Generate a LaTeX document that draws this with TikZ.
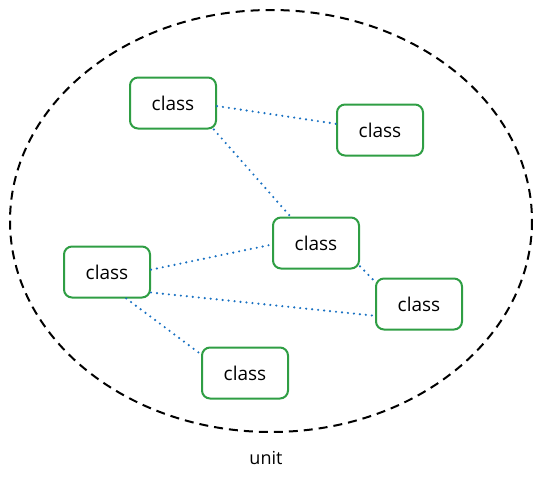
\documentclass[tikz,border=0pt]{standalone}
\usepackage{fontspec}
\setmainfont{Open Sans}
\usetikzlibrary{positioning}

\definecolor{boxgreen}{HTML}{2F9E44}
\definecolor{linkblue}{HTML}{1971C2}

\begin{document}
\begin{tikzpicture} [
	x=1pt, y=-1pt,
	cls/.style = {draw=boxgreen, line width=2pt, rounded corners=8pt, fill=white,
		minimum width=86pt, minimum height=51pt, font=\fontsize{19}{22}\selectfont},
	link/.style = {draw=linkblue, line width=2.4pt, line cap=round, dash pattern=on 0pt off 6pt},
]
\useasboundingbox (0,0) rectangle (542,482);
\draw [line width=2pt, dash pattern=on 9pt off 6pt] (271,221) ellipse [x radius=261, y radius=211];
\node [cls] (a) at (173,103) {class};
\node [cls] (b) at (380,130) {class};
\node [cls] (c) at (316,243) {class};
\node [cls] (d) at (107,272) {class};
\node [cls] (e) at (419,304) {class};
\node [cls] (f) at (245,373) {class};
\node [font=\fontsize{18}{21}\selectfont] (unit) at (266,458) {unit};

\draw [link] (a.-4) -- (b.172);
\draw [link] (a.-33) -- (c.134);
\draw [link] (d.3) -- (c.182);
\draw [link] (c.-28) -- (e.153);
\draw [link] (d.-25) -- (e.-165);
\draw [link] (d.-54) -- (f.157);
\end{tikzpicture}
\end{document}
